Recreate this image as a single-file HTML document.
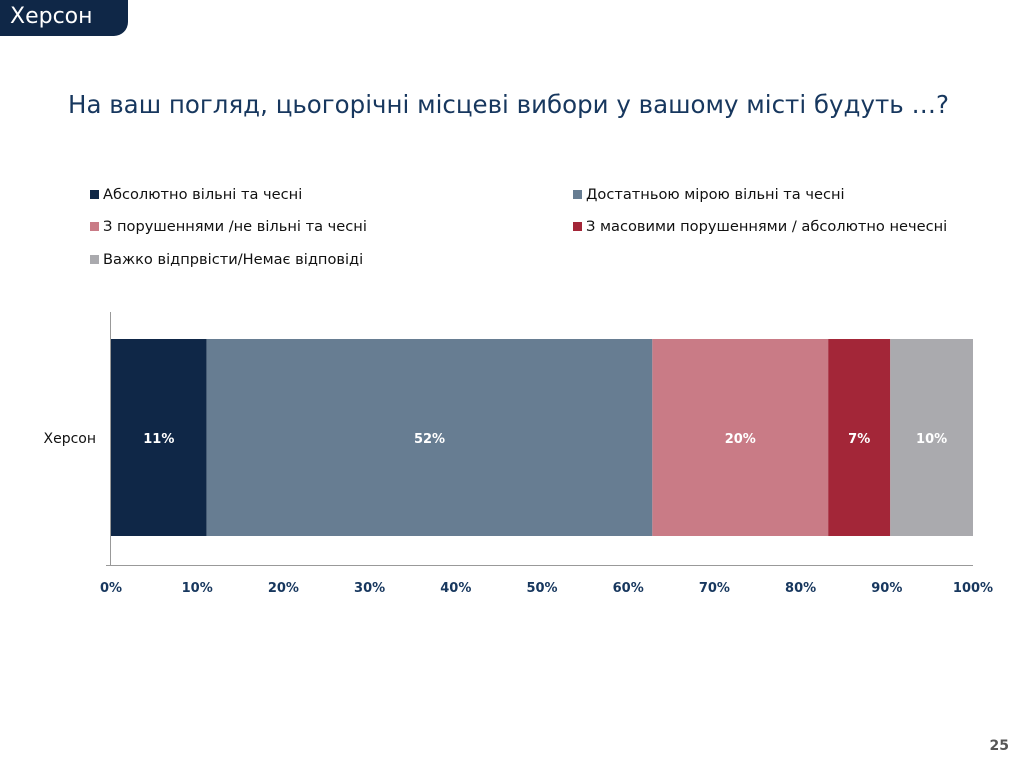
<!DOCTYPE html>
<html><head><meta charset="utf-8"><style>
body{margin:0;width:1019px;height:761px;background:#fff;font-family:"DejaVu Sans","Liberation Sans",sans-serif;position:relative;overflow:hidden}
.tab{position:absolute;left:0;top:0;width:128px;height:36px;background:#0f2747;border-bottom-right-radius:14px;color:#fff;font-size:22px;line-height:34px;padding-left:10px;box-sizing:border-box}
.title{position:absolute;left:0;width:1019px;top:90px;text-align:center;color:#17375e;font-size:24.5px;margin-left:-1px}
.leg{position:absolute;font-size:14.6px;color:#111}
.leg i{display:inline-block;width:9px;height:9px;margin-right:4px;vertical-align:0}
.pg{position:absolute;right:10px;top:738px;font-size:14px;color:#555;font-weight:bold}
</style></head><body>
<div class="tab">Херсон</div>
<div class="title">На ваш погляд, цьогорічні місцеві вибори у вашому місті будуть …?</div>
<div class="leg" style="left:90px;top:186px"><i style="background:#0f2747"></i>Абсолютно вільні та чесні</div>
<div class="leg" style="left:573px;top:186px"><i style="background:#677d92"></i>Достатньою мірою вільні та чесні</div>
<div class="leg" style="left:90px;top:218px"><i style="background:#c97b86"></i>З порушеннями /не вільні та чесні</div>
<div class="leg" style="left:573px;top:218px"><i style="background:#a32638"></i>З масовими порушеннями / абсолютно нечесні</div>
<div class="leg" style="left:90px;top:251px"><i style="background:#aaaaae"></i>Важко відпрвісти/Немає відповіді</div>
<svg id="c" width="1019" height="761" style="position:absolute;left:0;top:0"></svg>
<div class="pg">25</div>
<script>
const categories=["Херсон"];
const values=[11.1,51.7,20.4,7.2,9.6];
const labels=["11%","52%","20%","7%","10%"];
const colors=["#0f2747","#677d92","#c97b86","#a32638","#aaaaae"];
const ticks=[0,10,20,30,40,50,60,70,80,90,100];
const ns="http://www.w3.org/2000/svg",svg=document.getElementById('c');
const x=v=>111+v*8.62;
function mk(t,a){const e=document.createElementNS(ns,t);for(const k in a)e.setAttribute(k,a[k]);svg.appendChild(e);return e;}
let acc=0;
values.forEach((v,i)=>{
const r=mk('rect',{x:x(acc),y:339,width:x(acc+v)-x(acc),height:197,fill:colors[i]});


const t=mk('text',{x:x(acc+v/2),y:443,'text-anchor':'middle',fill:'#fff','font-size':13,'font-weight':'bold'});
t.textContent=labels[i];


acc+=v;});
mk('line',{x1:110.5,y1:312,x2:110.5,y2:565,stroke:'#999'});
mk('line',{x1:106,y1:565.5,x2:973,y2:565.5,stroke:'#999'});
ticks.forEach(v=>{
const t=mk('text',{x:x(v),y:592,'text-anchor':'middle',fill:'#17375e','font-size':13,'font-weight':'bold'});
t.textContent=v+'%';

});
const c=mk('text',{x:96,y:443,'text-anchor':'end',fill:'#111','font-size':14});
c.textContent=categories[0];


</script>
</body></html>
